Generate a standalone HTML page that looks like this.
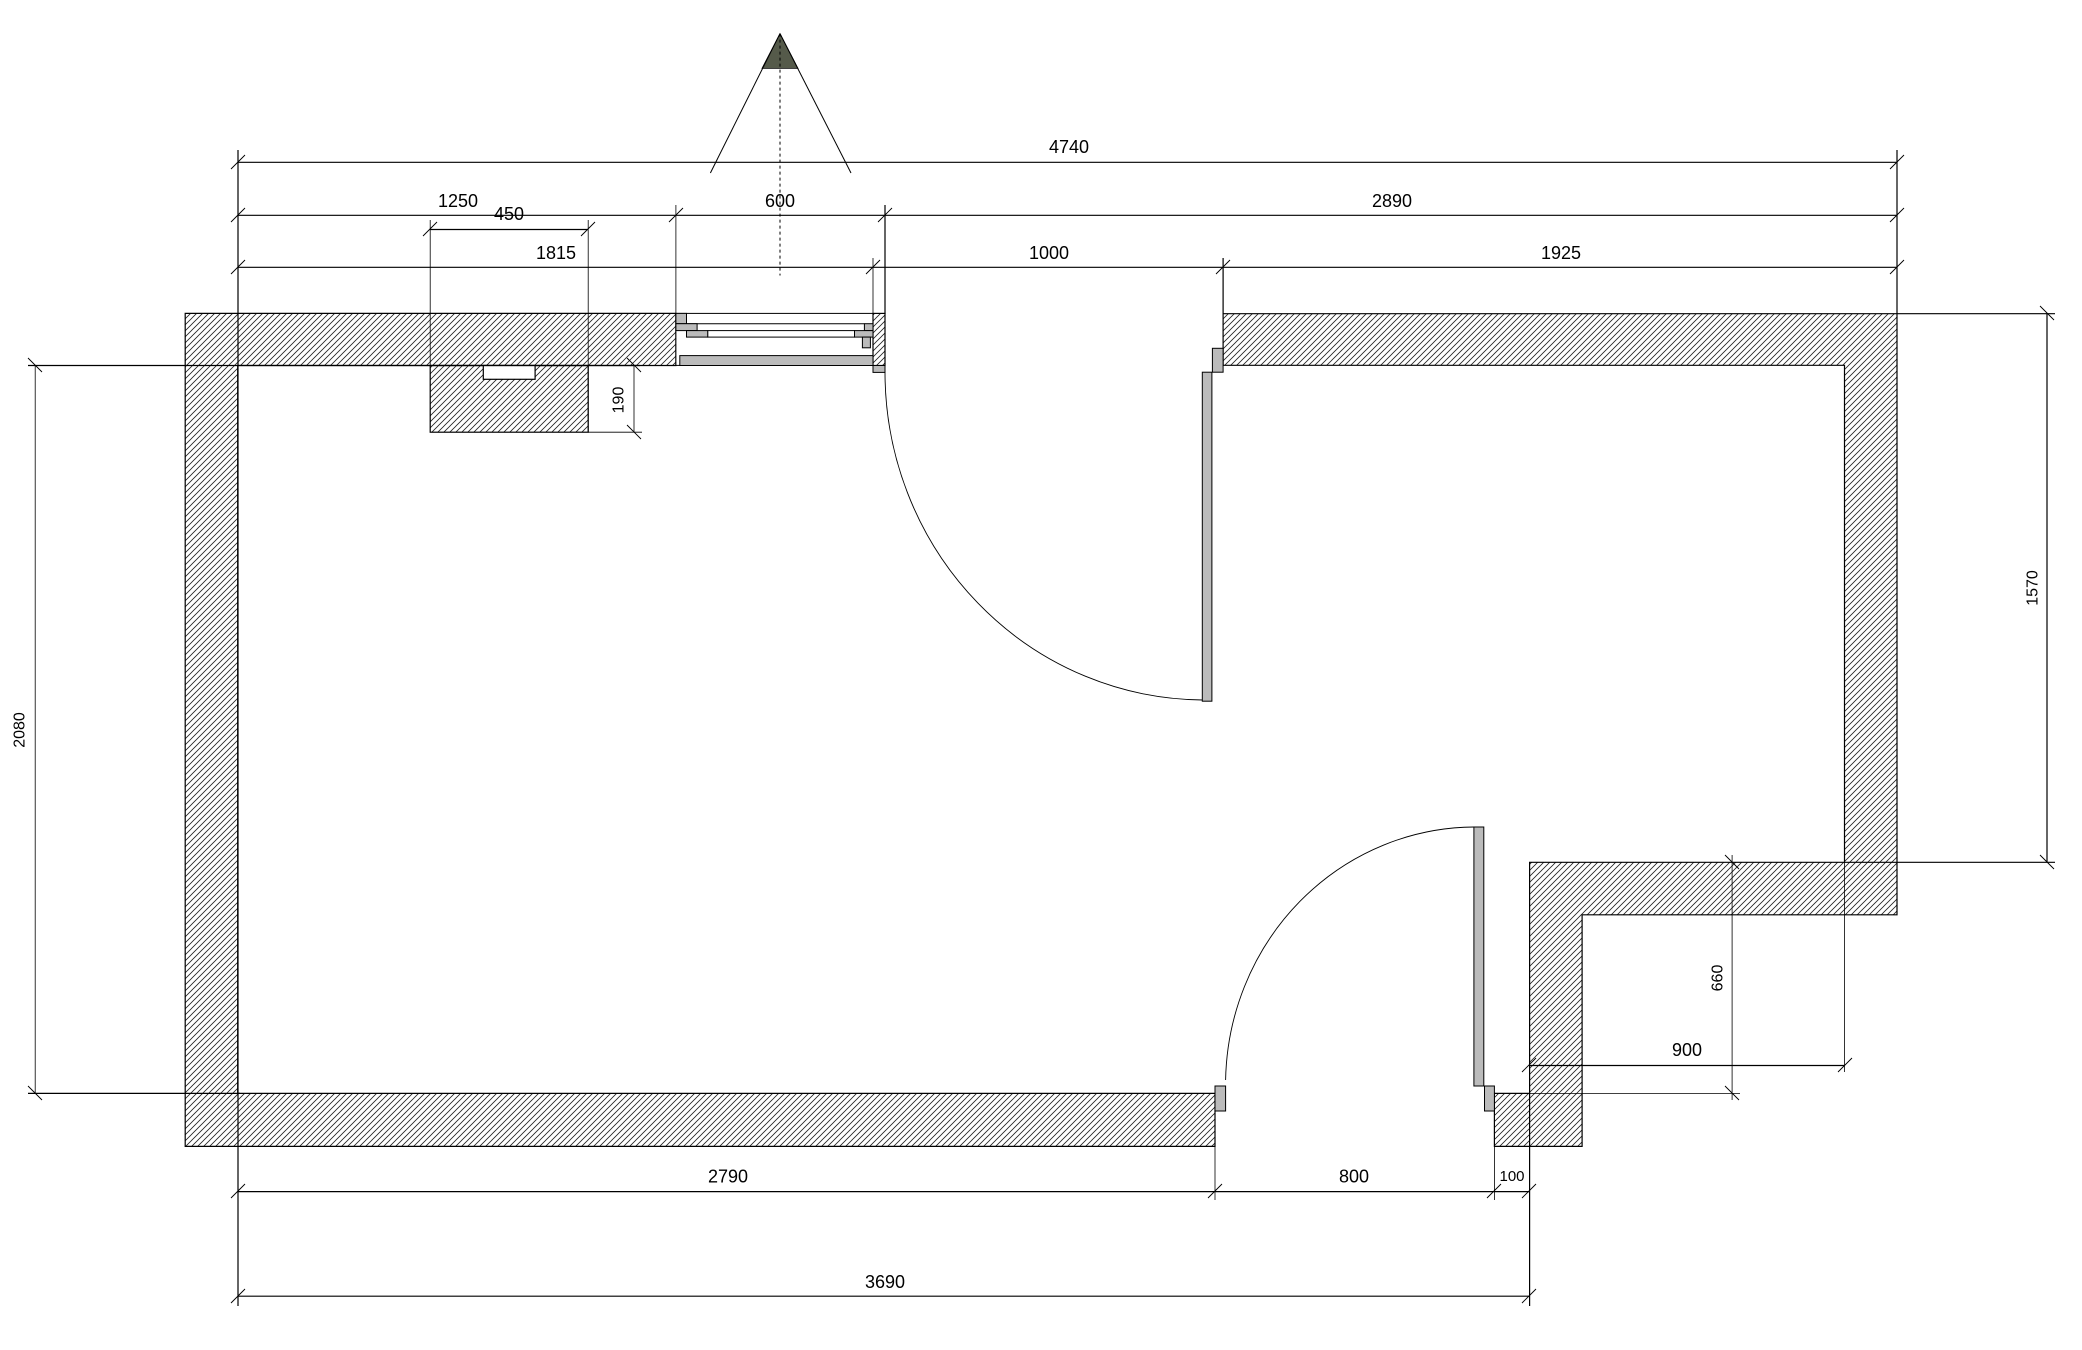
<!DOCTYPE html>
<html><head><meta charset="utf-8"><style>
html,body{margin:0;padding:0;background:#fff;}
svg{display:block;}
text{font-family:"Liberation Sans",sans-serif;fill:#000;}
</style></head><body>
<svg width="2082" height="1350" viewBox="0 0 2082 1350" xmlns="http://www.w3.org/2000/svg">
<defs>
<pattern id="h" patternUnits="userSpaceOnUse" width="6" height="6">
<path d="M-1,7 L7,-1 M-4,4 L4,-4 M2,10 L10,2" stroke="#222" stroke-width="0.8"/>
</pattern>
</defs>
<g stroke="#000" stroke-width="1.2" fill="url(#h)">
<path d="M185.2,313.4 L675.9,313.4 L675.9,365.5 L237.7,365.5 L237.7,1093.4 L1215,1093.4 L1215,1146.4 L185.2,1146.4 Z"/>
<rect x="873" y="313.4" width="12" height="52.1"/>
<path d="M1223.1,313.7 L1897,313.7 L1897,914.8 L1582.1,914.8 L1582.1,1146.4 L1494.4,1146.4 L1494.4,1093.4 L1529.6,1093.4 L1529.6,862.3 L1844.5,862.3 L1844.5,365.3 L1223.1,365.3 Z"/>
<rect x="430.2" y="365.5" width="158" height="66.7"/>
</g>
<rect x="483.3" y="365.5" width="51.8" height="13.8" fill="#fff" stroke="#000" stroke-width="1.2"/>

<g stroke="#000" stroke-width="1.2" fill="none">
<line x1="238" y1="162.3" x2="1897" y2="162.3"/>
<line x1="238" y1="215.3" x2="1897" y2="215.3"/>
<line x1="238" y1="267.3" x2="1897" y2="267.3"/>
<line x1="430.2" y1="229.5" x2="588.2" y2="229.5"/>
<line x1="238" y1="150" x2="238" y2="1306"/>
<line x1="1897" y1="150" x2="1897" y2="314"/>
<line x1="1223.1" y1="258" x2="1223.1" y2="314"/>
<line x1="885" y1="205" x2="885" y2="314"/>
<line x1="873" y1="258" x2="873" y2="314" stroke-width="0.8"/>
<line x1="675.9" y1="205" x2="675.9" y2="314" stroke-width="0.8"/>
<line x1="430.2" y1="220" x2="430.2" y2="366" stroke-width="0.8"/>
<line x1="588.2" y1="220" x2="588.2" y2="432" stroke-width="0.8"/>
<line x1="28" y1="365.5" x2="640" y2="365.5"/>
<line x1="588.2" y1="432.2" x2="642" y2="432.2" stroke-width="0.8"/>
<line x1="634" y1="365.5" x2="634" y2="432.2" stroke-width="0.8"/>
<line x1="35.2" y1="365.5" x2="35.2" y2="1093.4" stroke-width="0.8"/>
<line x1="28" y1="1093.4" x2="240" y2="1093.4"/>
<line x1="1897" y1="313.7" x2="2055" y2="313.7"/>
<line x1="1844.5" y1="862.3" x2="2055" y2="862.3"/>
<line x1="2047" y1="313.7" x2="2047" y2="862.3"/>
<line x1="1494" y1="1093.4" x2="1740" y2="1093.4" stroke-width="0.8"/>
<line x1="1732.1" y1="855" x2="1732.1" y2="1100" stroke-width="0.8"/>
<line x1="1529.6" y1="1065.5" x2="1845" y2="1065.5"/>
<line x1="1844.5" y1="862.3" x2="1844.5" y2="1072" stroke-width="0.8"/>
<line x1="1529.6" y1="1093" x2="1529.6" y2="1306"/>
<line x1="1215" y1="1111" x2="1215" y2="1200" stroke-width="0.8"/>
<line x1="1494.4" y1="1111" x2="1494.4" y2="1200" stroke-width="0.8"/>
<line x1="238" y1="1191.6" x2="1529.6" y2="1191.6"/>
<line x1="238" y1="1296.2" x2="1529.6" y2="1296.2"/>
</g>
<g stroke="#000" stroke-width="0.9">
<path d="M231,169 L245,155 M1890,169 L1904,155
M231,222 L245,208 M669,222 L683,208 M878,222 L892,208 M1890,222 L1904,208
M231,274 L245,260 M866,274 L880,260 M1216,274 L1230,260 M1890,274 L1904,260
M423,236 L437,222 M581,236 L595,222
M231,1198 L245,1184 M1208,1198 L1222,1184 M1487,1198 L1501,1184 M1522,1198 L1536,1184
M231,1303 L245,1289 M1522,1303 L1536,1289
M1522,1072 L1536,1058 M1838,1072 L1852,1058
M28,358 L42,372 M28,1086 L42,1100
M627,358 L641,372 M627,425 L641,439
M2040,306 L2054,320 M2040,855 L2054,869
M1725,855 L1739,869 M1725,1086 L1739,1100"/>
</g>

<g stroke="#000" stroke-width="1">
<rect x="675.9" y="313.4" width="197" height="52" fill="#fff"/>
<line x1="686.5" y1="323.7" x2="864.4" y2="323.7"/>
<rect x="707.7" y="330.6" width="146.8" height="6.5" fill="#fff"/>
<rect x="675.9" y="313.4" width="10.6" height="10.3" fill="#bbb"/>
<rect x="675.9" y="323.7" width="21.2" height="6.9" fill="#bbb"/>
<rect x="686.5" y="330.6" width="21.2" height="6.5" fill="#bbb"/>
<rect x="864.4" y="323.7" width="8.6" height="6.9" fill="#bbb"/>
<rect x="854.5" y="330.6" width="18.5" height="6.5" fill="#bbb"/>
<rect x="862.4" y="337.1" width="8" height="10.7" fill="#bbb"/>
<rect x="679.8" y="355.6" width="193.2" height="9.9" fill="#bbb"/>
<rect x="873" y="365.5" width="12" height="6.9" fill="#bbb"/>
</g>

<g stroke="#000" stroke-width="1">
<rect x="1212.4" y="348.3" width="10.7" height="23.9" fill="#bbb"/>
<rect x="1202.3" y="372.2" width="9.6" height="329" fill="#bbb"/>
<rect x="1215" y="1086" width="10.6" height="25" fill="#bbb"/>
<rect x="1484.5" y="1086" width="9.9" height="25" fill="#bbb"/>
<rect x="1473.9" y="827" width="9.9" height="259" fill="#bbb"/>
<path d="M885,372.4 A 320 328 0 0 0 1202.3,700" fill="none" stroke-width="0.9"/>
<path d="M1474,827 A 250 258 0 0 0 1225.6,1080" fill="none" stroke-width="0.9"/>
</g>

<polygon points="780,33.6 762,68.4 798,68.4" fill="#555a4a" stroke="#000" stroke-width="0.8"/>
<line x1="780" y1="33.6" x2="710.4" y2="173" stroke="#000" stroke-width="1"/>
<line x1="780" y1="33.6" x2="851" y2="173" stroke="#000" stroke-width="1"/>
<line x1="780" y1="33.6" x2="780" y2="275.5" stroke="#000" stroke-width="1" stroke-dasharray="3,3"/>

<g font-size="18" text-anchor="middle" dominant-baseline="central">
<text x="1069" y="147">4740</text>
<text x="458" y="201">1250</text>
<text x="509" y="214">450</text>
<text x="780" y="201">600</text>
<text x="1392" y="201">2890</text>
<text x="556" y="253">1815</text>
<text x="1049" y="253">1000</text>
<text x="1561" y="253">1925</text>
<text x="728" y="1176.5">2790</text>
<text x="1354" y="1176.5">800</text>
<text x="1512" y="1176.5" font-size="15">100</text>
<text x="885" y="1282">3690</text>
<text x="1687" y="1050">900</text>
</g>
<g font-size="16" text-anchor="middle" dominant-baseline="central">
<text transform="translate(20,730) rotate(-90)">2080</text>
<text transform="translate(619,400) rotate(-90)">190</text>
<text transform="translate(1718,978) rotate(-90)">660</text>
<text transform="translate(2033,588) rotate(-90)">1570</text>
</g>
</svg>
</body></html>
